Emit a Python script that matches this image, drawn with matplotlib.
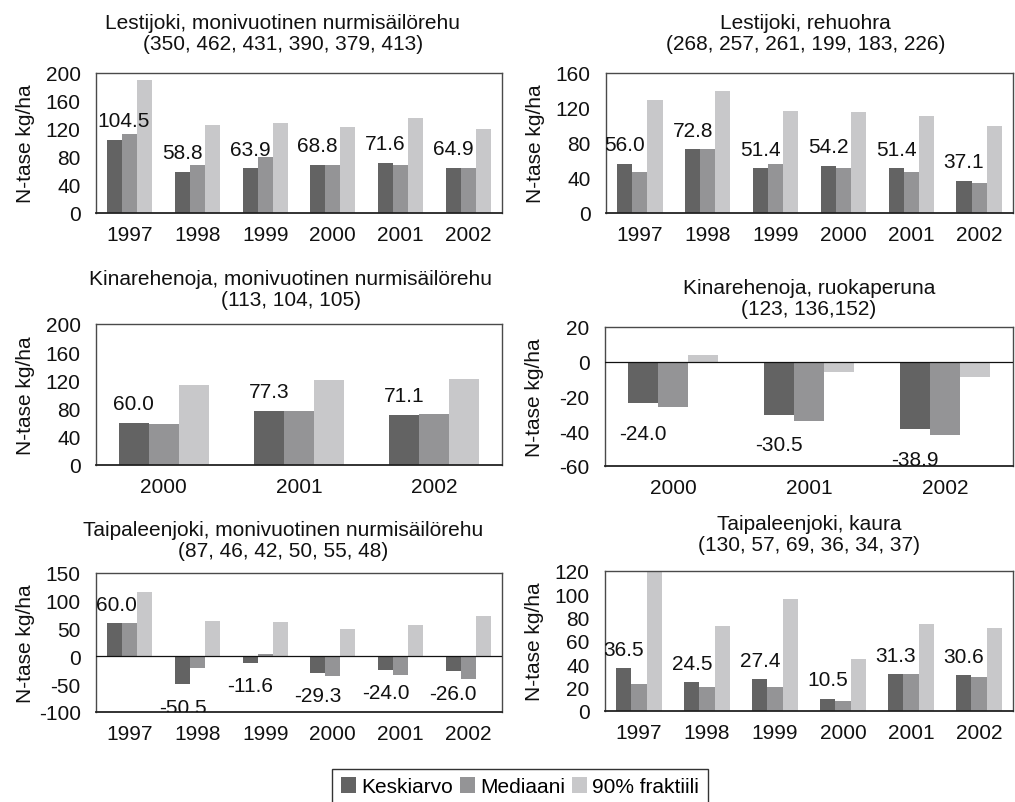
import matplotlib
matplotlib.use("Agg")
import matplotlib.pyplot as plt
from matplotlib.patches import Patch
from matplotlib.transforms import offset_copy
import numpy as np

plt.rcParams['font.family'] = ['Liberation Sans', 'DejaVu Sans']
plt.rcParams['axes.unicode_minus'] = False

# ---- data -------------------------------------------------------------
years6 = ['1997', '1998', '1999', '2000', '2001', '2002']
years3 = ['2000', '2001', '2002']

series_names = ['Keskiarvo', 'Mediaani', '90% fraktiili']

lest_nurmi_mean = [104.5, 58.8, 63.9, 68.8, 71.6, 64.9]
lest_nurmi_median = [113, 68, 80, 68, 68, 65]
lest_nurmi_p90 = [190, 125, 129, 123, 135, 120]

lest_rehu_mean = [56.0, 72.8, 51.4, 54.2, 51.4, 37.1]
lest_rehu_median = [47, 72.8, 55.6, 52, 47, 34]
lest_rehu_p90 = [129, 140, 117, 115, 111, 99]

kin_nurmi_mean = [60.0, 77.3, 71.1]
kin_nurmi_median = [58, 77, 73]
kin_nurmi_p90 = [113, 121, 122]

kin_peruna_mean = [-24.0, -30.5, -38.9]
kin_peruna_median = [-26, -34, -42]
kin_peruna_p90 = [4, -6, -9]

taip_nurmi_mean = [60.0, -50.5, -11.6, -29.3, -24.0, -26.0]
taip_nurmi_median = [60, -21, 3.5, -36, -33, -41]
taip_nurmi_p90 = [115, 64, 62, 50, 57, 72]

taip_kaura_mean = [36.5, 24.5, 27.4, 10.5, 31.3, 30.6]
taip_kaura_median = [23.5, 20.5, 20.5, 9, 31.3, 29.5]
taip_kaura_p90 = [120, 73, 96, 45, 75, 71]

titles = [
    'Lestijoki, monivuotinen nurmisäilörehu\n(350, 462, 431, 390, 379, 413)',
    'Lestijoki, rehuohra\n(268, 257, 261, 199, 183, 226)',
    'Kinarehenoja, monivuotinen nurmisäilörehu\n(113, 104, 105)',
    'Kinarehenoja, ruokaperuna\n(123, 136,152)',
    'Taipaleenjoki, monivuotinen nurmisäilörehu\n(87, 46, 42, 50, 55, 48)',
    'Taipaleenjoki, kaura\n(130, 57, 69, 36, 34, 37)',
]

ylabel = 'N-tase kg/ha'

# ---- styling ----------------------------------------------------------
colors = ['#636363', '#949496', '#c8c8ca']
FS = 15
W, H = 1015, 803

fig = plt.figure(figsize=(W / 100, H / 100), dpi=100)


def px_axes(x0, x1, y0, y1):
    return fig.add_axes([x0 / W, 1 - y1 / H, (x1 - x0) / W, (y1 - y0) / H])


panels = [
    dict(box=(96, 502, 74, 214), cats=years6,
         data=(lest_nurmi_mean, lest_nurmi_median, lest_nurmi_p90),
         ylim=(0, 200), step=40, tx=0.46, ty=20, zero=False, nudge=9, neg=26),
    dict(box=(606, 1013, 74, 214), cats=years6,
         data=(lest_rehu_mean, lest_rehu_median, lest_rehu_p90),
         ylim=(0, 160), step=40, tx=0.49, ty=20, zero=False, nudge=0, neg=26),
    dict(box=(96, 502, 325, 466), cats=years3,
         data=(kin_nurmi_mean, kin_nurmi_median, kin_nurmi_p90),
         ylim=(0, 200), step=40, tx=0.48, ty=15, zero=False, nudge=0, neg=26),
    dict(box=(605, 1013, 328, 467), cats=years3,
         data=(kin_peruna_mean, kin_peruna_median, kin_peruna_p90),
         ylim=(-60, 20), step=20, tx=0.5, ty=9, zero=True, nudge=0, neg=30),
    dict(box=(96, 502, 574, 713), cats=years6,
         data=(taip_nurmi_mean, taip_nurmi_median, taip_nurmi_p90),
         ylim=(-100, 150), step=50, tx=0.46, ty=13, zero=True, nudge=2, neg=23),
    dict(box=(605, 1013, 572, 712), cats=years6,
         data=(taip_kaura_mean, taip_kaura_median, taip_kaura_p90),
         ylim=(0, 120), step=20, tx=0.5, ty=17, zero=False, nudge=0, neg=26),
]

group = 2 / 3
bw = group / 3

for p, title in zip(panels, titles):
    ax = px_axes(*p['box'])
    n = len(p['cats'])
    x = np.arange(n)
    for i, (vals, col) in enumerate(zip(p['data'], colors)):
        ax.bar(x + (i - 1) * bw, vals, width=bw, color=col,
               edgecolor='none', zorder=2)
    if p['zero']:
        ax.axhline(0, color='#111111', lw=0.9, zorder=3)

    # value labels of the mean series (first one may be pushed inside)
    for k, (xi, v) in enumerate(zip(x - bw, p['data'][0])):
        dy = 19 if v >= 0 else -p['neg']
        dx = p['nudge'] if k == 0 else 0
        tr = offset_copy(ax.transData, fig=fig, x=dx, y=dy, units='dots')
        ax.text(xi, v, f'{v:.1f}', transform=tr, ha='center', va='center',
                fontsize=FS, color='#111111', clip_on=True, zorder=4)

    ax.set_xlim(-0.5, n - 0.5)
    ax.set_ylim(*p['ylim'])
    ax.set_yticks(np.arange(p['ylim'][0], p['ylim'][1] + 0.1, p['step']))
    ax.set_xticks(x)
    ax.set_xticklabels(p['cats'])
    ax.tick_params(axis='both', length=0, labelsize=FS, colors='#111111')
    ax.tick_params(axis='y', pad=11)
    ax.tick_params(axis='x', pad=9)
    for s in ax.spines.values():
        s.set_color('#4a4a4a')
        s.set_linewidth(1.0)
    ax.spines['bottom'].set_color('#222222')
    ax.spines['bottom'].set_linewidth(1.3)
    ax.set_ylabel(ylabel, fontsize=FS, color='#111111')
    ax.yaxis.set_label_coords(-0.15, 0.5)

    ttr = offset_copy(ax.transAxes, fig=fig, x=0, y=p['ty'], units='dots')
    ax.text(p['tx'], 1.0, title, transform=ttr, ha='center', va='bottom',
            fontsize=FS, linespacing=1.15, color='#111111')

handles = [Patch(facecolor=c, edgecolor='none') for c in colors]
fig.legend(handles, series_names, loc='upper center', ncol=3,
           bbox_to_anchor=(520 / W, 1 - 770 / H), borderaxespad=0,
           fontsize=FS, frameon=True, fancybox=False, framealpha=1,
           edgecolor='#333333', handlelength=0.75, handleheight=0.75,
           handletextpad=0.25, columnspacing=0.3, borderpad=0.4)

fig.savefig('out.png', dpi=100)
